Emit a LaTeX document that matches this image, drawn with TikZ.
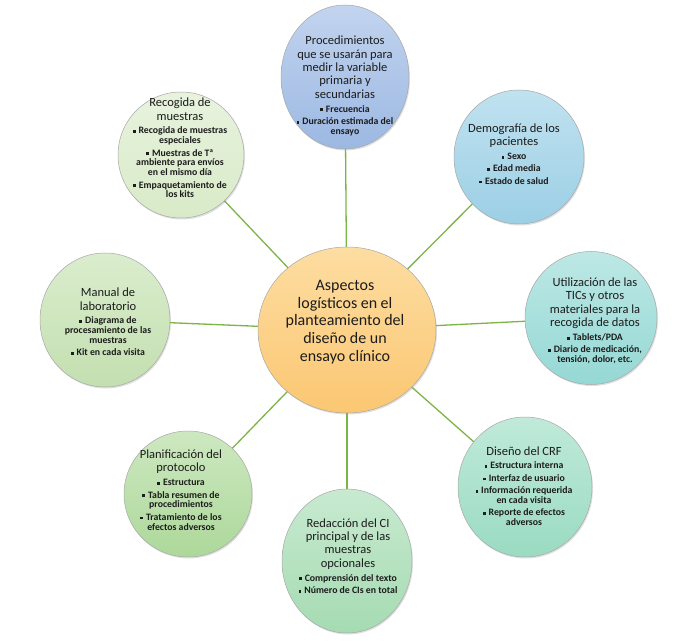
\documentclass[tikz,border=0pt]{standalone}
\usepackage{fontspec}
\setmainfont{Carlito}
\usetikzlibrary{shapes.geometric,shadows}
\definecolor{linegreen}{HTML}{7DB446}
\definecolor{rimgray}{HTML}{A8A8A8}
\definecolor{txtc}{HTML}{1C1C1C}
\definecolor{cA}{HTML}{9CB8E2}\definecolor{cAl}{HTML}{C2D4EF}
\definecolor{cB}{HTML}{9CCFE5}\definecolor{cBl}{HTML}{C0E2F0}
\definecolor{cC}{HTML}{95D8D4}\definecolor{cCl}{HTML}{BDE8E5}
\definecolor{cD}{HTML}{9ADBC2}\definecolor{cDl}{HTML}{C0EAD9}
\definecolor{cE}{HTML}{A5DBB2}\definecolor{cEl}{HTML}{C8EAD0}
\definecolor{cF}{HTML}{ADD89A}\definecolor{cFl}{HTML}{CDE8C0}
\definecolor{cG}{HTML}{C3DFB0}\definecolor{cGl}{HTML}{DAEDCD}
\definecolor{cH}{HTML}{D8EAC8}\definecolor{cHl}{HTML}{E8F3DE}
\definecolor{cO}{HTML}{FBC772}\definecolor{cOl}{HTML}{FDDDA2}
\newcommand\bl{\rule[0.2ex]{0.28em}{0.28em}\hspace{0.3em}}
\newcommand\ttl[1]{{\fontsize{12.5}{13.4}\selectfont\spaceskip=0.22em\relax #1\par}\vspace{4pt}}
\newcommand\bls{\fontsize{9.8}{9.8}\selectfont\bfseries\spaceskip=0.22em\relax}
\newcommand\nx{\\[2.6pt]}
\begin{document}
\begin{tikzpicture}[x=1pt,y=-1pt,
  bubble/.style={ellipse, draw=rimgray, line width=0.5pt, inner sep=0pt,
    drop shadow={opacity=0.25, shadow xshift=1pt, shadow yshift=-1.5pt}},
  txt/.style={text width=170pt, align=center, inner sep=0pt, text=txtc},
  link/.style={draw=linegreen, line width=1.3pt}]
\useasboundingbox (0,0) rectangle (680,644);
\fill[white] (0,0) rectangle (680,644);
% satellites
\node[bubble, top color=cAl, bottom color=cA, minimum width=128pt, minimum height=144pt] (p1) at (345,77) {};
\node[bubble, top color=cBl, bottom color=cB, minimum width=130pt, minimum height=134pt] (p2) at (519,157) {};
\node[bubble, top color=cCl, bottom color=cC, minimum width=132pt, minimum height=133pt] (p3) at (591,318) {};
\node[bubble, top color=cDl, bottom color=cD, minimum width=134pt, minimum height=140pt] (p4) at (525,487) {};
\node[bubble, top color=cEl, bottom color=cE, minimum width=130pt, minimum height=144pt] (p5) at (347,561) {};
\node[bubble, top color=cFl, bottom color=cF, minimum width=128pt, minimum height=126pt] (p6) at (188,494) {};
\node[bubble, top color=cGl, bottom color=cG, minimum width=130pt, minimum height=134pt] (p7) at (105,320) {};
\node[bubble, top color=cHl, bottom color=cH, minimum width=126pt, minimum height=126pt] (p8) at (181,155) {};
\node[bubble, top color=cOl, bottom color=cO, minimum width=178pt, minimum height=166pt] (c) at (347,330) {};
% connectors
\foreach \p in {p1,p2,p3,p4,p5,p6,p7,p8} \draw[link] (c) -- (\p);
% texts
\node[txt] (tc) at (345,322) {\fontsize{16}{17.8}\selectfont\spaceskip=0.22em\relax Aspectos\\logísticos en el\\planteamiento del\\diseño de un\\ensayo clínico\par};
\node[txt] (t1) at (345,86) {\ttl{Procedimientos\\que se usarán para\\medir la variable\\primaria y\\secundarias}\bls\bl Frecuencia\nx\bl Duración estimada del\\ensayo\par};
\node[txt] (t2) at (514,154) {\ttl{Demografía de los\\pacientes}\bls\bl Sexo\nx\bl Edad media\nx\bl Estado de salud\par};
\node[txt] (t3) at (595,321) {\ttl{Utilización de las\\TICs y otros\\materiales para la\\recogida de datos}\bls\bl Tablets/PDA\nx\bl Diario de medicación,\\tensión, dolor, etc.\par};
\node[txt] (t4) at (524,486) {\ttl{Diseño del CRF}\bls\bl Estructura interna\nx\bl Interfaz de usuario\nx\bl Información requerida\\en cada visita\nx\bl Reporte de efectos\\adversos\par};
\node[txt] (t5) at (348,556) {\ttl{Redacción del CI\\principal y de las\\muestras\\opcionales}\bls\bl Comprensión del texto\nx\bl Número de CIs en total\par};
\node[txt] (t6) at (181,490) {\ttl{Planificación del\\protocolo}\bls\bl Estructura\nx\bl Tabla resumen de\\procedimientos\nx\bl Tratamiento de los\\efectos adversos\par};
\node[txt] (t7) at (108,322) {\ttl{Manual de\\laboratorio}\bls\bl Diagrama de\\procesamiento de las\\muestras\nx\bl Kit en cada visita\par};
\node[txt] (t8) at (180,148) {\ttl{Recogida de\\muestras}\bls\bl Recogida de muestras\\especiales\nx\bl Muestras de Tª\\ambiente para envíos\\en el mismo día\nx\bl Empaquetamiento de\\los kits\par};
\end{tikzpicture}
\end{document}
